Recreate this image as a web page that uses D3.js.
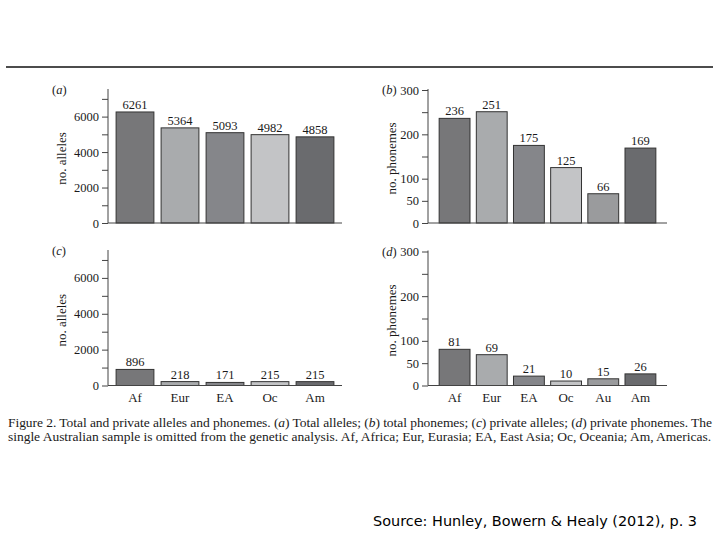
<!DOCTYPE html>
<html>
<head>
<meta charset="utf-8">
<script src="https://d3js.org/d3.v7.min.js"></script>
<style>
    body { margin: 0; background: #fff; }
    svg text { font-family: "Liberation Serif", "DejaVu Serif", serif; fill: #1a1a1a; }
    .domain, .tick line { stroke: #444; }
</style>
</head>
<body>
<svg id="visual" width="720" height="540"></svg>
<script>
// regions (Australia only has phoneme data)
const allelesRegions = ["Af", "Eur", "EA", "Oc", "Am"];
const phonemesRegions = ["Af", "Eur", "EA", "Oc", "Au", "Am"];

const totalAlleles = [6261, 5364, 5093, 4982, 4858];
const totalPhonemes = [236, 251, 175, 125, 66, 169];
const privateAlleles = [896, 218, 171, 215, 215];
const privatePhonemes = [81, 69, 21, 10, 15, 26];

const allelesTicks = [0, 1000, 2000, 3000, 4000, 5000, 6000, 7000];
const allelesTickLabels = [0, 2000, 4000, 6000];
const phonemesTicks = [0, 50, 100, 150, 200, 250, 300];
const phonemesTickLabels = [0, 50, 100, 200, 300];

const regionColor = {
    Af: "#777779", Eur: "#a9abad", EA: "#85868a",
    Oc: "#c3c4c6", Au: "#9a9b9d", Am: "#6a6b6e"
};

var svg = d3.select("svg");

// rule across the top of the figure
svg.append("line")
    .attr("x1", 6).attr("x2", 713)
    .attr("y1", 67).attr("y2", 67)
    .attr("stroke", "#111").attr("stroke-width", 1.5);

function panel(opts) {
    var x = d3.scaleBand()
        .domain(opts.regions)
        .range([opts.left, opts.right])
        .paddingInner(opts.padIn)
        .paddingOuter(opts.padOut);

    var y = d3.scaleLinear()
        .domain([0, opts.max])
        .range([opts.bottom, opts.top]);

    var g = svg.append("g");

    // y axis
    g.append("g")
        .attr("transform", "translate(" + opts.left + ",0)")
        .call(d3.axisLeft(y).tickValues(opts.ticks).tickSize(6).tickSizeOuter(0)
            .tickFormat(function (d) { return opts.labels.indexOf(d) >= 0 ? d : ""; }))
        .call(function (a) {
            a.selectAll("text").style("font-size", "12.5px").style("font-family", "Liberation Serif");
            a.select(".domain").attr("d", "M0," + opts.bottom + "V" + (opts.top - 1));
        });

    // bars
    g.selectAll("rect")
        .data(opts.values)
        .enter()
        .append("rect")
        .attr("x", function (d, i) { return x(opts.regions[i]); })
        .attr("y", function (d) { return y(d); })
        .attr("width", x.bandwidth())
        .attr("height", function (d) { return opts.bottom - y(d); })
        .attr("fill", function (d, i) { return regionColor[opts.regions[i]]; })
        .attr("stroke", "#333")
        .attr("stroke-width", 1);

    // value labels
    g.selectAll(".val")
        .data(opts.values)
        .enter()
        .append("text")
        .attr("class", "val")
        .attr("x", function (d, i) { return x(opts.regions[i]) + x.bandwidth() / 2; })
        .attr("y", function (d) { return y(d) - 3; })
        .attr("text-anchor", "middle")
        .style("font-size", "12.5px")
        .text(function (d) { return d; });

    // x axis line
    g.append("line")
        .attr("x1", opts.left).attr("x2", opts.right)
        .attr("y1", opts.bottom).attr("y2", opts.bottom)
        .attr("stroke", "#444");

    if (opts.showCats) {
        g.selectAll(".cat")
            .data(opts.regions)
            .enter()
            .append("text")
            .attr("class", "cat")
            .attr("x", function (d) { return x(d) + x.bandwidth() / 2; })
            .attr("y", opts.bottom + 16)
            .attr("text-anchor", "middle")
            .style("font-size", "13px")
            .text(function (d) { return d; });
    }

    // axis title
    g.append("text")
        .attr("transform", "translate(" + opts.titleX + "," + ((opts.bottom + opts.top) / 2 + 2) + ") rotate(-90)")
        .attr("text-anchor", "middle")
        .style("font-size", "13px")
        .text(opts.title);

    // panel letter
    var lt = g.append("text")
        .attr("x", opts.letterX)
        .attr("y", opts.top + 4)
        .style("font-size", "12.5px");
    lt.append("tspan").text("(");
    lt.append("tspan").style("font-style", "italic").text(opts.letter);
    lt.append("tspan").text(")");
}

panel({ regions: allelesRegions, values: totalAlleles, max: 7500,
    ticks: allelesTicks, labels: allelesTickLabels,
    left: 108, right: 342, top: 90, bottom: 223, padIn: 0.16, padOut: 0.18,
    title: "no. alleles", titleX: 66, letter: "a", letterX: 52, showCats: false });

panel({ regions: phonemesRegions, values: totalPhonemes, max: 300,
    ticks: phonemesTicks, labels: phonemesTickLabels,
    left: 428, right: 667, top: 90, bottom: 223, padIn: 0.17, padOut: 0.3,
    title: "no. phonemes", titleX: 396, letter: "b", letterX: 382, showCats: false });

panel({ regions: allelesRegions, values: privateAlleles, max: 7500,
    ticks: allelesTicks, labels: allelesTickLabels,
    left: 108, right: 342, top: 251, bottom: 385.5, padIn: 0.16, padOut: 0.18,
    title: "no. alleles", titleX: 66, letter: "c", letterX: 52, showCats: true });

panel({ regions: phonemesRegions, values: privatePhonemes, max: 300,
    ticks: phonemesTicks, labels: phonemesTickLabels,
    left: 428, right: 667, top: 251.5, bottom: 385.5, padIn: 0.17, padOut: 0.3,
    title: "no. phonemes", titleX: 396, letter: "d", letterX: 382, showCats: true });

// caption
var cap1 = svg.append("text")
    .attr("x", 8).attr("y", 427)
    .attr("textLength", 704).attr("lengthAdjust", "spacing")
    .style("font-size", "13.5px");
[["Figure 2. Total and private alleles and phonemes. (", 0], ["a", 1], [") Total alleles; (", 0], ["b", 1],
 [") total phonemes; (", 0], ["c", 1], [") private alleles; (", 0], ["d", 1], [") private phonemes. The", 0]]
    .forEach(function (p) {
        cap1.append("tspan").style("font-style", p[1] ? "italic" : "normal").text(p[0]);
    });

svg.append("text")
    .attr("x", 8).attr("y", 441)
    .attr("textLength", 703).attr("lengthAdjust", "spacing")
    .style("font-size", "13.5px")
    .text("single Australian sample is omitted from the genetic analysis. Af, Africa; Eur, Eurasia; EA, East Asia; Oc, Oceania; Am, Americas.");

// source note
svg.append("text")
    .attr("x", 373).attr("y", 526)
    .attr("textLength", 324).attr("lengthAdjust", "spacingAndGlyphs")
    .style("font-family", "'DejaVu Sans', sans-serif")
    .style("font-size", "14px")
    .style("fill", "#000")
    .text("Source: Hunley, Bowern & Healy (2012), p. 3");
</script>
</body>
</html>
